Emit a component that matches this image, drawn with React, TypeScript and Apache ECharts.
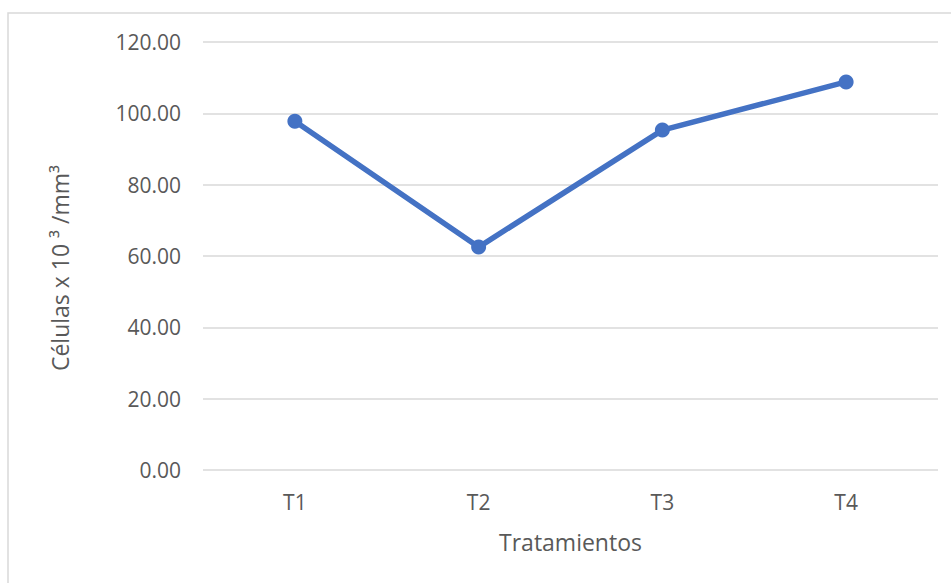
import React, { useEffect, useRef } from "react";
import * as echarts from "echarts";

const categories = ["T1", "T2", "T3", "T4"];
const values = [97.8, 62.5, 95.3, 108.8];
const yTicks = { min: 0, max: 120, interval: 20 };
const xTitle = "Tratamientos";
const yTitle = "Células x 10 ³ /mm³";

export default function App() {
  const ref = useRef<HTMLDivElement>(null);
  useEffect(() => {
    document.body.style.margin = "0";
    const chart = echarts.init(ref.current!, undefined, { renderer: "svg" });
    const font = "Open Sans";
    chart.setOption({
      animation: false,
      backgroundColor: "#ffffff",
      textStyle: { fontFamily: font },
      graphic: [
        {
          type: "rect",
          shape: { x: 8, y: 13, width: 1000, height: 700 },
          style: { fill: "none", stroke: "#D9D9D9", lineWidth: 1.5 },
          silent: true,
        },
        {
          type: "text",
          x: 60,
          y: 268,
          rotation: Math.PI / 2,
          style: {
            text: yTitle,
            fill: "#595959",
            fontSize: 23,
            fontFamily: font,
            align: "center",
            verticalAlign: "middle",
          },
          silent: true,
        },
      ],
      grid: { left: 203, right: 13, top: 42, bottom: 113 },
      xAxis: {
        type: "category",
        data: categories,
        boundaryGap: true,
        axisLine: { show: false },
        axisTick: { show: false },
        axisLabel: { color: "#595959", fontSize: 21, fontFamily: font, margin: 21 },
        name: xTitle,
        nameLocation: "middle",
        nameGap: 60,
        nameTextStyle: { color: "#595959", fontSize: 23, fontFamily: font },
      },
      yAxis: {
        type: "value",
        min: yTicks.min,
        max: yTicks.max,
        interval: yTicks.interval,
        axisLine: { show: false },
        axisTick: { show: false },
        splitLine: { lineStyle: { color: "#D9D9D9", width: 1.5 } },
        axisLabel: {
          color: "#595959",
          fontSize: 21,
          fontFamily: font,
          margin: 22,
          formatter: (v: number) => v.toFixed(2),
        },
      },
      series: [
        {
          type: "line",
          data: values,
          symbol: "circle",
          symbolSize: 15,
          lineStyle: { color: "#4472C4", width: 5.5 },
          itemStyle: { color: "#4472C4" },
        },
      ],
    });
    return () => chart.dispose();
  }, []);
  return <div ref={ref} style={{ width: 951, height: 583 }} />;
}
